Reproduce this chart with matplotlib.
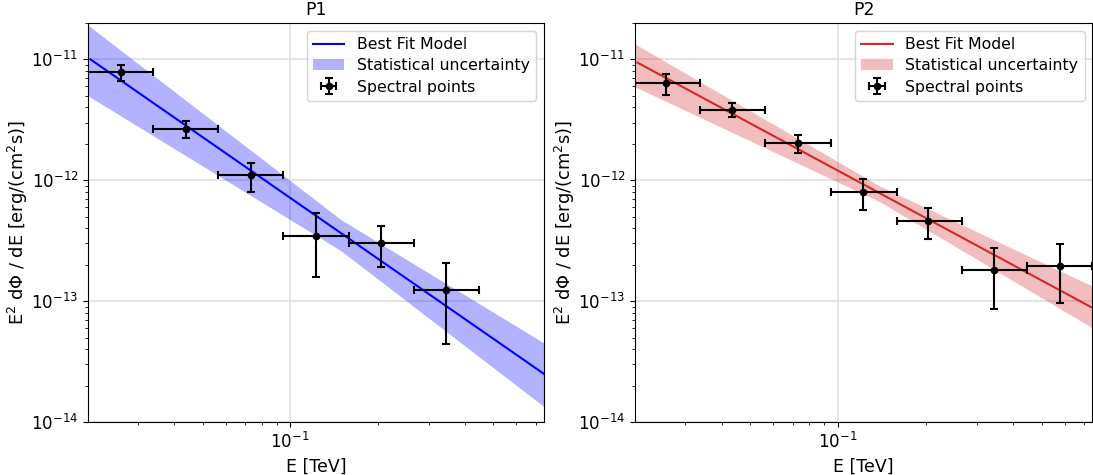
import numpy as np
import matplotlib
matplotlib.use("Agg")
import matplotlib.pyplot as plt
from matplotlib.ticker import NullFormatter

# Energy bins (TeV)
bin_edges = [0.0202, 0.0337, 0.0565, 0.0947, 0.159, 0.267, 0.446, 0.746]

# ---- P1 ----
p1_energy = [0.0262, 0.0438, 0.0736, 0.1228, 0.2058, 0.3436]
p1_flux = [7.8e-12, 2.67e-12, 1.095e-12, 3.44e-13, 3.03e-13, 1.246e-13]
p1_flux_hi = [8.9e-12, 3.07e-12, 1.38e-12, 5.35e-13, 4.17e-13, 2.07e-13]
p1_flux_lo = [6.68e-12, 2.22e-12, 8.02e-13, 1.57e-13, 1.90e-13, 4.4e-14]
p1_model_energy = [0.0206, 0.746]
p1_model_flux = [1.0e-11, 2.5e-14]
p1_band_energy = [0.0202, 0.15, 0.746]
p1_band_upper = [1.92e-11, 4.7e-13, 4.5e-14]
p1_band_lower = [5.0e-12, 2.6e-13, 1.34e-14]

# ---- P2 ----
p2_energy = [0.0258, 0.0434, 0.0730, 0.1220, 0.2045, 0.3440, 0.5770]
p2_flux = [6.35e-12, 3.82e-12, 2.02e-12, 7.95e-13, 4.57e-13, 1.80e-13, 1.96e-13]
p2_flux_hi = [7.53e-12, 4.33e-12, 2.37e-12, 1.016e-12, 5.87e-13, 2.73e-13, 2.95e-13]
p2_flux_lo = [5.08e-12, 3.31e-12, 1.67e-12, 5.66e-13, 3.24e-13, 8.66e-14, 9.57e-14]
p2_model_energy = [0.0206, 0.746]
p2_model_flux = [9.4e-12, 8.8e-14]
p2_band_energy = [0.0202, 0.14, 0.746]
p2_band_upper = [1.34e-11, 8.9e-13, 1.33e-13]
p2_band_lower = [5.93e-12, 6.6e-13, 6.0e-14]

panels = [
    dict(title="P1", color="blue", energy=p1_energy, flux=p1_flux,
         hi=p1_flux_hi, lo=p1_flux_lo, m_e=p1_model_energy, m_f=p1_model_flux,
         b_e=p1_band_energy, b_u=p1_band_upper, b_l=p1_band_lower),
    dict(title="P2", color="tab:red", energy=p2_energy, flux=p2_flux,
         hi=p2_flux_hi, lo=p2_flux_lo, m_e=p2_model_energy, m_f=p2_model_flux,
         b_e=p2_band_energy, b_u=p2_band_upper, b_l=p2_band_lower),
]

plt.rcParams["font.size"] = 12

fig = plt.figure(figsize=(10.93, 4.75), dpi=100)
axes = [fig.add_axes([0.0805, 0.1116, 0.4172, 0.84]),
        fig.add_axes([0.581, 0.1116, 0.4185, 0.84])]

for ax, p in zip(axes, panels):
    n = len(p["energy"])
    e = np.array(p["energy"])
    lo_edge = np.array(bin_edges[:n])
    hi_edge = np.array(bin_edges[1:n + 1])
    f = np.array(p["flux"])
    xerr = [e - lo_edge, hi_edge - e]
    yerr = [f - np.array(p["lo"]), np.array(p["hi"]) - f]

    line, = ax.plot(p["m_e"], p["m_f"], color=p["color"], lw=1.5,
                    label="Best Fit Model")
    band = ax.fill_between(p["b_e"], p["b_l"], p["b_u"], color=p["color"],
                           alpha=0.3, lw=0, label="Statistical uncertainty")
    pts = ax.errorbar(e, f, xerr=xerr, yerr=yerr, fmt="o", color="black",
                      ms=4.5, lw=1.5, capsize=3, capthick=1.5,
                      label="Spectral points")

    ax.set_xscale("log")
    ax.set_yscale("log")
    ax.set_xlim(bin_edges[0], bin_edges[-1])
    ax.set_ylim(1e-14, 2e-11)
    ax.xaxis.set_minor_formatter(NullFormatter())
    ax.yaxis.set_minor_formatter(NullFormatter())
    ax.grid(True, which="major", color="#e0e0e0", lw=1.2)
    ax.set_axisbelow(True)
    ax.set_title(p["title"], fontsize=12.5)
    ax.set_xlabel("E [TeV]", fontsize=12.5)
    ax.set_ylabel("E$^2$ dΦ / dE [erg/(cm$^2$s)]", fontsize=12.8, labelpad=1)
    ax.legend(handles=[line, band, pts], loc="upper right", fontsize=11.3,
              labelspacing=0.4)

fig.savefig("out.png", dpi=100)
